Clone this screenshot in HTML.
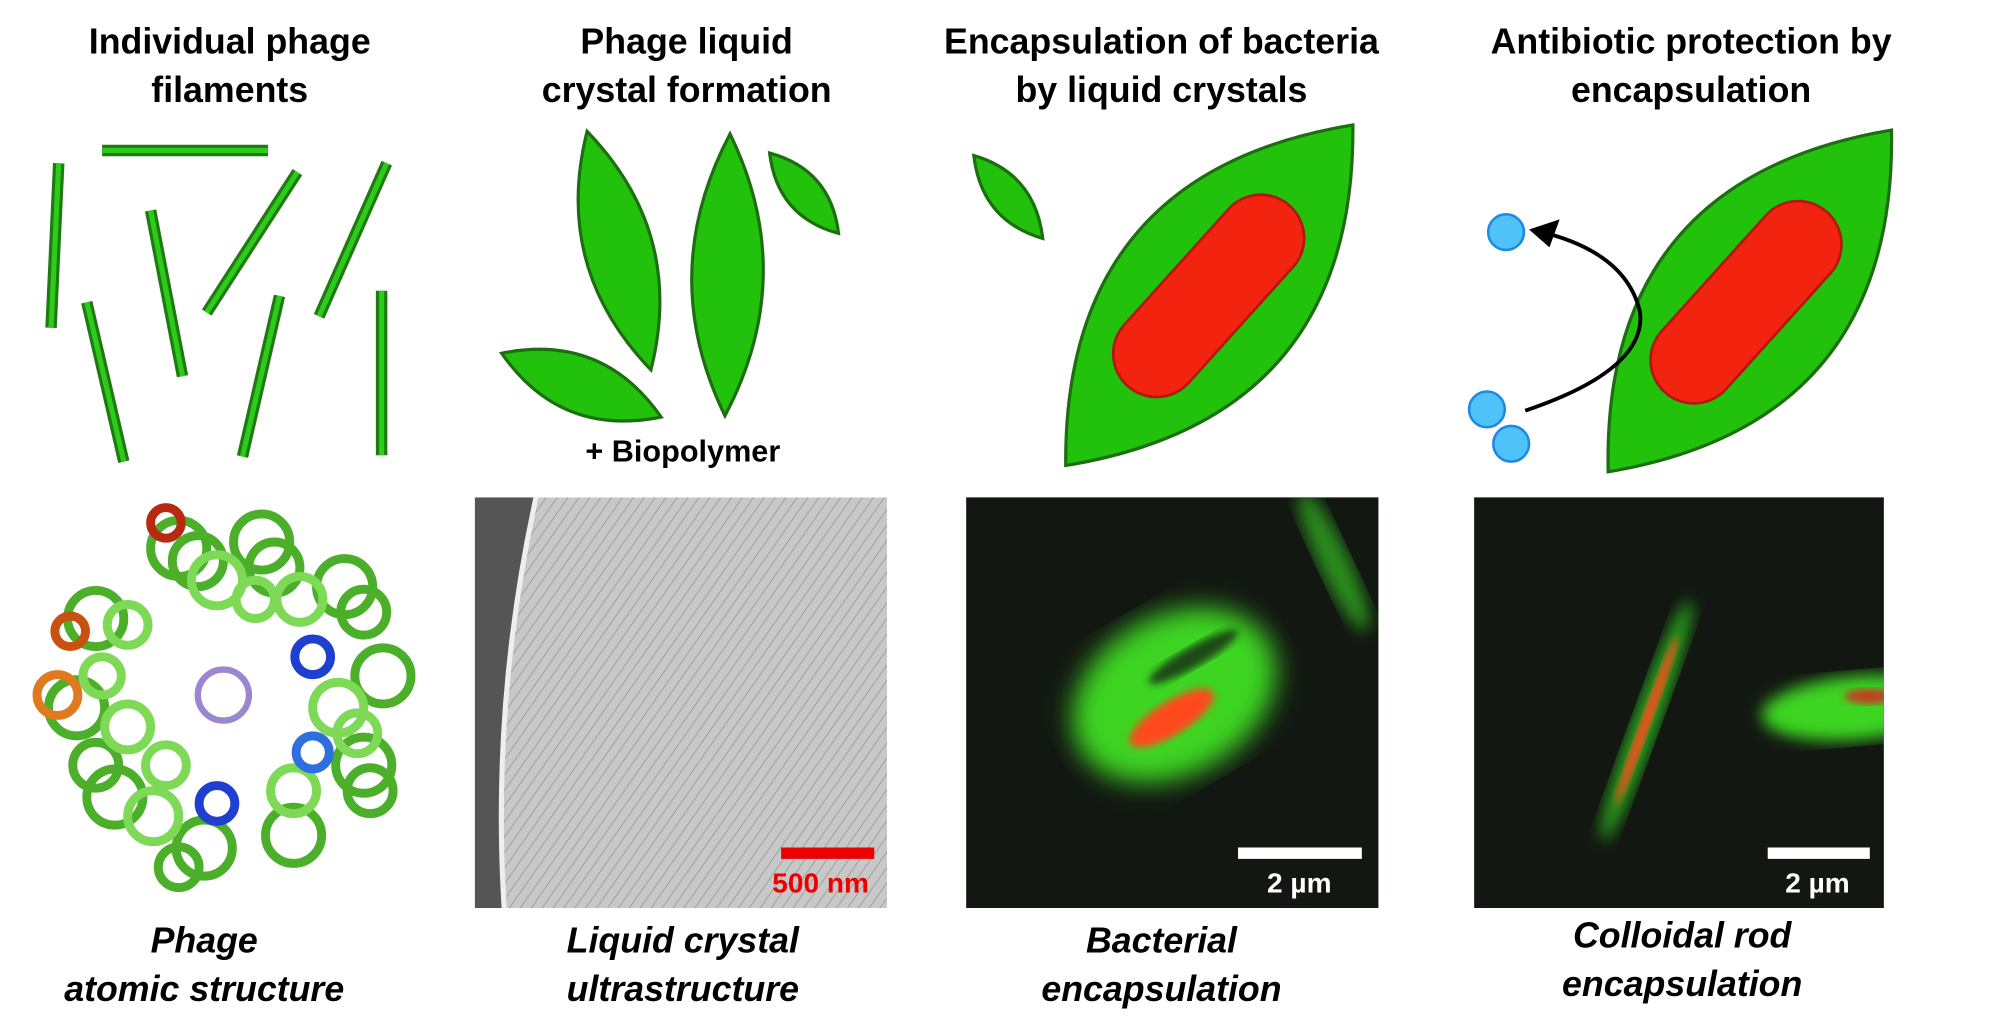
<!DOCTYPE html>
<html><head><meta charset="utf-8"><style>
html,body{margin:0;padding:0;background:#fff;width:2000px;height:1033px;overflow:hidden}
svg{display:block}
text{font-family:"Liberation Sans",sans-serif;font-weight:bold;fill:#000}
</style></head><body>
<svg width="2000" height="1033" viewBox="0 0 1567 810" preserveAspectRatio="none">
<defs>
<filter id="b6"><feGaussianBlur stdDeviation="6"/></filter>
<filter id="b3"><feGaussianBlur stdDeviation="3"/></filter>
<filter id="b10"><feGaussianBlur stdDeviation="10"/></filter>
<pattern id="fib" width="7" height="7" patternUnits="userSpaceOnUse" patternTransform="rotate(35)">
<rect width="7" height="7" fill="#c8c8c8"/><line x1="0" y1="0" x2="0" y2="7" stroke="#8e8e8e" stroke-width="1.1"/></pattern>
<clipPath id="c2"><rect x="372" y="390" width="323" height="322"/></clipPath>
<clipPath id="c3"><rect x="757" y="390" width="323" height="322"/></clipPath>
<clipPath id="c4"><rect x="1155" y="390" width="321" height="322"/></clipPath>
</defs>
<g font-size="28" text-anchor="middle">
<text x="180" y="42">Individual phage</text><text x="180" y="80">filaments</text>
<text x="538" y="42">Phage liquid</text><text x="538" y="80">crystal formation</text>
<text x="910" y="42">Encapsulation of bacteria</text><text x="910" y="80">by liquid crystals</text>
<text x="1325" y="42">Antibiotic protection by</text><text x="1325" y="80">encapsulation</text>
</g>
<g stroke="#1f7a12" stroke-width="9" stroke-linecap="butt">
<line x1="46" y1="128" x2="40" y2="257"/><line x1="80" y1="118" x2="210" y2="118"/>
<line x1="118" y1="165" x2="143" y2="295"/><line x1="233" y1="135" x2="162" y2="245"/>
<line x1="303" y1="128" x2="250" y2="248"/><line x1="68" y1="237" x2="97" y2="362"/>
<line x1="219" y1="232" x2="190" y2="358"/><line x1="299" y1="228" x2="299" y2="357"/>
</g>
<g stroke="#2ecc1a" stroke-width="4">
<line x1="46" y1="128" x2="40" y2="257"/><line x1="80" y1="118" x2="210" y2="118"/>
<line x1="118" y1="165" x2="143" y2="295"/><line x1="233" y1="135" x2="162" y2="245"/>
<line x1="303" y1="128" x2="250" y2="248"/><line x1="68" y1="237" x2="97" y2="362"/>
<line x1="219" y1="232" x2="190" y2="358"/><line x1="299" y1="228" x2="299" y2="357"/>
</g>
<g fill="#22c10c" stroke="#1c6e10" stroke-width="2.5">
<path d="M460,103 Q433,210 510,290 Q537,183 460,103Z"/>
<path d="M572,105 Q514,215 568,326 Q626,216 572,105Z"/>
<path d="M603,120 Q609,170 657,183 Q651,133 603,120Z"/>
<path d="M393,277 Q439,343 518,327 Q472,261 393,277Z"/>
<path d="M763,122 Q769,173 817,187 Q811,136 763,122Z"/>
<path d="M1060,98 Q1062,328 835,365 Q833,135 1060,98Z"/>
<path d="M1482,102 Q1486,332 1260,370 Q1255,140 1482,102Z"/>
</g>
<text x="535" y="362" font-size="24" text-anchor="middle">+ Biopolymer</text>
<g fill="#f2230f" stroke="#b0160a" stroke-width="2">
<rect x="-95" y="-34" width="190" height="68" rx="34" transform="translate(947,232) rotate(-48)"/>
<rect x="-95" y="-34" width="190" height="68" rx="34" transform="translate(1368,237) rotate(-48)"/>
</g>
<g fill="#4fc3f7" stroke="#1e88e5" stroke-width="2">
<circle cx="1180" cy="182" r="14"/><circle cx="1165" cy="321" r="14"/><circle cx="1184" cy="348" r="14"/>
</g>
<path d="M1195,322 Q1290,290 1285,245 Q1275,200 1212,183" fill="none" stroke="#000" stroke-width="3"/>
<polygon points="1198,180 1222,172 1214,194" fill="#000"/>
<!-- protein structure -->
<g fill="none" stroke-width="7">
<g stroke="#4caf2a">
<circle cx="140" cy="430" r="22"/><circle cx="205" cy="425" r="22"/><circle cx="270" cy="460" r="22"/>
<circle cx="300" cy="530" r="22"/><circle cx="285" cy="600" r="22"/><circle cx="230" cy="655" r="22"/>
<circle cx="160" cy="665" r="22"/><circle cx="90" cy="625" r="22"/><circle cx="60" cy="555" r="22"/>
<circle cx="75" cy="485" r="22"/>
<circle cx="155" cy="440" r="20"/><circle cx="215" cy="445" r="20"/><circle cx="285" cy="480" r="18"/>
<circle cx="290" cy="620" r="18"/><circle cx="75" cy="600" r="18"/><circle cx="140" cy="680" r="16"/>
</g>
<g stroke="#7ed957">
<circle cx="170" cy="455" r="20"/><circle cx="235" cy="470" r="18"/><circle cx="265" cy="555" r="20"/>
<circle cx="230" cy="620" r="18"/><circle cx="120" cy="640" r="20"/><circle cx="100" cy="570" r="18"/>
<circle cx="100" cy="490" r="16"/><circle cx="130" cy="600" r="16"/>
<circle cx="200" cy="470" r="15"/><circle cx="280" cy="575" r="16"/><circle cx="80" cy="530" r="15"/>
</g>
<circle cx="245" cy="515" r="14" stroke="#1e3fd0"/><circle cx="170" cy="630" r="14" stroke="#1e3fd0"/>
<circle cx="245" cy="590" r="13" stroke="#2e6fe0"/><circle cx="45" cy="545" r="16" stroke="#e07a20"/>
<circle cx="130" cy="410" r="12" stroke="#b52a10"/><circle cx="55" cy="495" r="12" stroke="#c85010"/>
<circle cx="175" cy="545" r="20" stroke="#9b87d0" stroke-width="5"/>
</g>
<!-- EM -->
<g clip-path="url(#c2)">
<rect x="372" y="390" width="323" height="322" fill="url(#fib)"/>
<path d="M372,390 L420,390 Q385,550 395,712 L372,712Z" fill="#555"/>
<path d="M420,390 Q385,550 395,712" stroke="#eee" stroke-width="4" fill="none"/>
</g>
<line x1="612" y1="669" x2="685" y2="669" stroke="#e00" stroke-width="9"/>
<text x="643" y="700" font-size="22" text-anchor="middle" style="fill:#e00">500 nm</text>
<!-- fluorescence 3 -->
<rect x="757" y="390" width="323" height="322" fill="#121712"/>
<g clip-path="url(#c3)">
<ellipse cx="920" cy="545" rx="85" ry="62" transform="rotate(-30 920 545)" fill="#3cd424" filter="url(#b10)"/>
<ellipse cx="935" cy="515" rx="40" ry="8" transform="rotate(-30 935 515)" fill="#1a4a14" filter="url(#b3)"/>
<ellipse cx="918" cy="563" rx="38" ry="13" transform="rotate(-32 918 563)" fill="#ff4a1e" filter="url(#b3)"/>
<ellipse cx="1045" cy="440" rx="12" ry="60" transform="rotate(-25 1045 440)" fill="#2a8a1c" filter="url(#b6)"/>
</g>
<line x1="970" y1="669" x2="1067" y2="669" stroke="#fff" stroke-width="9"/>
<text x="1018" y="700" font-size="22" text-anchor="middle" style="fill:#fff">2 µm</text>
<!-- fluorescence 4 -->
<rect x="1155" y="390" width="321" height="322" fill="#121712"/>
<g clip-path="url(#c4)">
<ellipse cx="1290" cy="565" rx="10" ry="100" transform="rotate(20 1290 565)" fill="#2aa81a" filter="url(#b6)"/>
<ellipse cx="1290" cy="565" rx="4" ry="70" transform="rotate(20 1290 565)" fill="#ff4a1e" filter="url(#b3)"/>
<ellipse cx="1455" cy="555" rx="75" ry="25" transform="rotate(-5 1455 555)" fill="#3cd424" filter="url(#b6)"/>
<ellipse cx="1465" cy="546" rx="20" ry="6" fill="#c04020" filter="url(#b3)"/>
</g>
<line x1="1385" y1="669" x2="1465" y2="669" stroke="#fff" stroke-width="9"/>
<text x="1424" y="700" font-size="22" text-anchor="middle" style="fill:#fff">2 µm</text>
<g font-size="28" text-anchor="middle" font-style="italic">
<text x="160" y="747">Phage</text><text x="160" y="785">atomic structure</text>
<text x="535" y="747">Liquid crystal</text><text x="535" y="785">ultrastructure</text>
<text x="910" y="747">Bacterial</text><text x="910" y="785">encapsulation</text>
<text x="1318" y="743">Colloidal rod</text><text x="1318" y="781">encapsulation</text>
</g>
</svg>
</body></html>
